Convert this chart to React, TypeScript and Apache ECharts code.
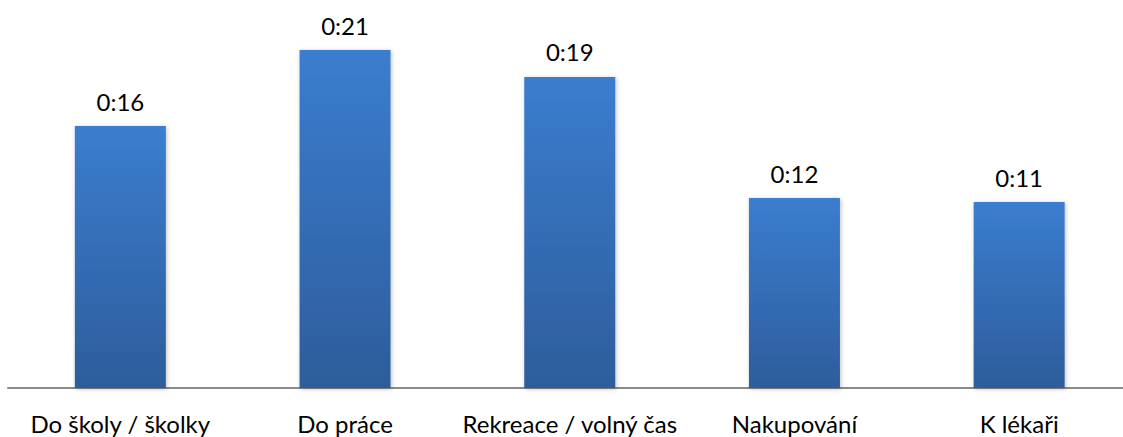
import React, { useEffect, useRef } from "react";
import * as echarts from "echarts";

const categories = ["Do školy / školky", "Do práce", "Rekreace / volný čas", "Nakupování", "K lékaři"];
const valuesMinutes = [16.2, 20.9, 19.24, 11.75, 11.5];
const valueLabels = ["0:16", "0:21", "0:19", "0:12", "0:11"];

export default function App() {
  const ref = useRef<HTMLDivElement>(null);
  useEffect(() => {
    if (!ref.current) return;
    const chart = echarts.init(ref.current, null, { renderer: "svg" });
    chart.setOption({
      animation: false,
      backgroundColor: "#ffffff",
      grid: { left: 8, right: 8.5, top: 0, bottom: 49, containLabel: false },
      xAxis: {
        type: "category",
        data: categories,
        axisLine: { show: true, lineStyle: { color: "#8a8a8a", width: 2 } },
        axisTick: { show: false },
        axisLabel: {
          margin: 23,
          color: "#000000",
          fontSize: 24,
          fontFamily: "Lato",
          interval: 0,
        },
      },
      yAxis: {
        type: "value",
        min: 0,
        max: 24,
        show: false,
        splitLine: { show: false },
      },
      series: [
        {
          type: "bar",
          barWidth: 91,
          data: valuesMinutes,
          itemStyle: {
            color: new echarts.graphic.LinearGradient(0, 0, 0, 1, [
              { offset: 0, color: "#3b7dcf" },
              { offset: 1, color: "#2d5d9b" },
            ]),
            shadowColor: "rgba(0,0,0,0.25)",
            shadowBlur: 4,
            shadowOffsetX: 1,
            shadowOffsetY: 1,
          },
          label: {
            show: true,
            position: "top",
            distance: 13,
            color: "#000000",
            fontSize: 24,
            fontFamily: "Lato",
            formatter: (p: any) => valueLabels[p.dataIndex],
          },
        },
      ],
    });
    return () => chart.dispose();
  }, []);
  return (
    <div
      style={{
        position: "absolute",
        left: 0,
        top: 0,
        width: 1123,
        height: 437,
        overflow: "hidden",
        background: "#ffffff",
      }}
    >
      <div ref={ref} style={{ width: 1140, height: 437 }} />
    </div>
  );
}
